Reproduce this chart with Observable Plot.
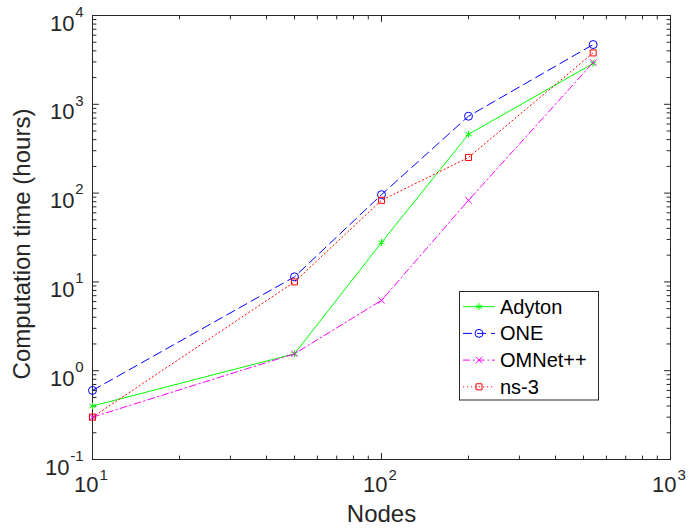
<!DOCTYPE html>
<html><head><meta charset="utf-8">
<script src="https://cdn.jsdelivr.net/npm/d3@7"></script>
<script src="https://cdn.jsdelivr.net/npm/@observablehq/plot@0.6"></script>
<style>body{margin:0;background:#fff} #chart{width:689px;height:532px}</style>
</head><body><div id="chart"></div>
<script>
// ---- data ----
const nodes   = [10, 50, 100, 200, 540];
const adyton  = [0.40, 1.55, 27.8, 460, 2880];
const one     = [0.60, 11.4, 96, 734, 4710];
const omnet   = [0.30, 1.55, 6.2, 83, 2950];
const ns3     = [0.30, 10.0, 83, 252, 3790];
const seriesNames = ["Adyton", "ONE", "OMNet++", "ns-3"];
const xTickValues = [10, 100, 1000];
const xTickExps   = ["1", "2", "3"];
const yTickValues = [0.1, 1, 10, 100, 1000, 10000];
const yTickExps   = ["-1", "0", "1", "2", "3", "4"];
const xLabel = "Nodes";
const yLabel = "Computation time (hours)";

// ---- styles ----
const axisColor = "#262626";
const font = "Liberation Sans, Arial, Helvetica, sans-serif";
const styles = [
  {color: "#00ff00", dash: null,        symbol: "asterisk", d3sym: d3.symbolAsterisk, r: 3.3},
  {color: "#0000ff", dash: "9,5",       symbol: "circle",   d3sym: d3.symbolCircle,   r: 4},
  {color: "#ff00ff", dash: "7,3,1.5,3", symbol: "times",    d3sym: d3.symbolTimes,    r: 3},
  {color: "#ff0000", dash: "1.2,2.8",   symbol: "square",   d3sym: d3.symbolSquare,   r: 3.4}
];
const values = [adyton, one, omnet, ns3];
const rows = values.map((vals, i) => nodes.map((n, j) => ({series: seriesNames[i], x: n, y: vals[j]})));

const isPow10 = v => Math.abs(Math.log10(v) - Math.round(Math.log10(v))) < 1e-9;
const xMinor = d3.scaleLog().domain([10, 1000]).ticks().filter(v => !isPow10(v));
const yMinor = d3.scaleLog().domain([0.1, 10000]).ticks().filter(v => !isPow10(v));

const tickShape = {draw(ctx, l) { ctx.moveTo(0, 0); ctx.lineTo(0, -l); }};
function xTicks(vals, len) {
  return [
    Plot.vector(vals, {x: d => d, frameAnchor: "bottom", rotate: 0, length: len, anchor: "start", shape: tickShape, stroke: axisColor, strokeWidth: 1}),
    Plot.vector(vals, {x: d => d, frameAnchor: "top", rotate: 180, length: len, anchor: "start", shape: tickShape, stroke: axisColor, strokeWidth: 1})
  ];
}
function yTicks(vals, len) {
  return [
    Plot.vector(vals, {y: d => d, frameAnchor: "left", rotate: 90, length: len, anchor: "start", shape: tickShape, stroke: axisColor, strokeWidth: 1}),
    Plot.vector(vals, {y: d => d, frameAnchor: "right", rotate: 270, length: len, anchor: "start", shape: tickShape, stroke: axisColor, strokeWidth: 1})
  ];
}

const xTickRows = xTickValues.map((v, i) => ({v, e: xTickExps[i]}));
const yTickRows = yTickValues.map((v, i) => ({v, e: yTickExps[i]}));

const marks = [
  ...xTicks(xMinor, 3.5), ...xTicks(xTickValues, 6),
  ...yTicks(yMinor, 3.5), ...yTicks(yTickValues, 6),
  Plot.frame({stroke: axisColor, strokeWidth: 1})
];
rows.forEach((r, i) => {
  const s = styles[i];
  marks.push(Plot.line(r, {x: "x", y: "y", stroke: s.color, strokeWidth: 1, strokeDasharray: s.dash}));
});
rows.forEach((r, i) => {
  const s = styles[i];
  marks.push(Plot.dot(r, {x: "x", y: "y", symbol: () => s.symbol, r: s.r, stroke: s.color, fill: "none", strokeWidth: 1}));
});
// x tick labels
marks.push(Plot.text(xTickRows, {x: "v", text: () => "10", frameAnchor: "bottom", textAnchor: "end", dx: 6, dy: 32, fontSize: 22, fill: axisColor}));
marks.push(Plot.text(xTickRows, {x: "v", text: "e", frameAnchor: "bottom", textAnchor: "start", dx: 7, dy: 20, fontSize: 15, fill: axisColor}));
// y tick labels
marks.push(Plot.text(yTickRows.filter(d => d.e.length === 1), {y: "v", text: () => "10", frameAnchor: "left", textAnchor: "end", dx: -18, dy: 8, fontSize: 22, fill: axisColor}));
marks.push(Plot.text(yTickRows.filter(d => d.e.length > 1), {y: "v", text: () => "10", frameAnchor: "left", textAnchor: "end", dx: -23, dy: 8, fontSize: 22, fill: axisColor}));
marks.push(Plot.text(yTickRows, {y: "v", text: "e", frameAnchor: "left", textAnchor: "end", dx: -9, dy: -3.5, fontSize: 15, fill: axisColor}));
// x axis title
marks.push(Plot.text([xLabel], {text: d => d, frameAnchor: "bottom", dy: 62, fontSize: 24, fill: axisColor}));

const plot = Plot.plot({
  width: 689, height: 532,
  marginLeft: 92, marginRight: 19, marginTop: 15, marginBottom: 73,
  x: {type: "log", domain: [10, 1000], axis: null},
  y: {type: "log", domain: [0.1, 10000], axis: null},
  style: {fontFamily: font, background: "#fff", color: axisColor},
  marks
});

const svg = d3.select(plot);
// y axis title (rotated)
svg.append("text")
  .attr("transform", "translate(22,244) rotate(-90)")
  .attr("text-anchor", "middle").attr("dy", "0.35em")
  .attr("font-family", font).attr("font-size", 24).attr("fill", axisColor)
  .text(yLabel);

// legend
const lg = svg.append("g").attr("font-family", font).attr("font-size", 20).attr("fill", "#000").attr("text-anchor", "start");
lg.append("rect").attr("x", 459.5).attr("y", 291.5).attr("width", 139).attr("height", 108.5)
  .attr("fill", "#fff").attr("stroke", axisColor).attr("stroke-width", 1);
styles.forEach((s, i) => {
  const cy = 306.7 + i * 26.7;
  lg.append("line").attr("x1", 463).attr("x2", 495).attr("y1", cy).attr("y2", cy)
    .attr("stroke", s.color).attr("stroke-width", 1).attr("stroke-dasharray", s.dash);
  lg.append("path").attr("d", d3.symbol(s.d3sym, Math.PI * s.r * s.r)())
    .attr("transform", `translate(479,${cy})`).attr("fill", "none").attr("stroke", s.color).attr("stroke-width", 1);
  lg.append("text").attr("x", 500).attr("y", cy).attr("dy", "0.35em").attr("text-anchor", "start").text(seriesNames[i]);
});

document.getElementById("chart").appendChild(plot);
</script>
</body></html>
